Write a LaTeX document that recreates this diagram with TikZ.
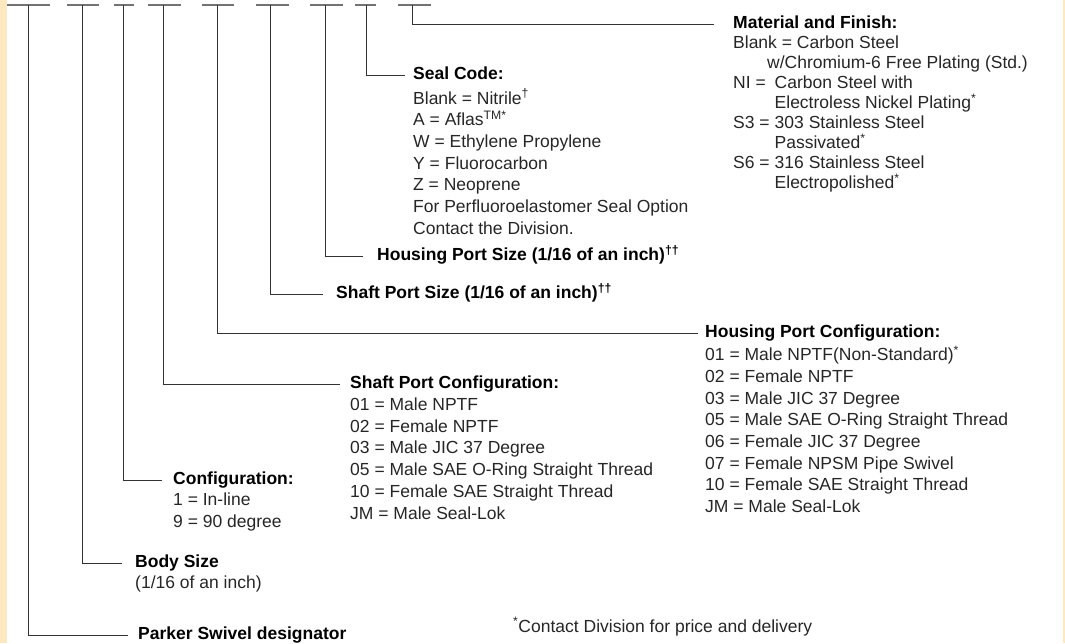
\documentclass[tikz,border=0pt]{standalone}
\usepackage{fontspec}
\setmainfont{Liberation Sans}
\usetikzlibrary{positioning}
\definecolor{bandYellow}{RGB}{255,231,192}

\begin{document}
\begin{tikzpicture}[
  x=1pt, y=-1pt,
  tick/.style={draw=black!55, line width=1.6pt},
  lead/.style={draw=black!80, line width=1pt},
  head/.style={font=\bfseries\fontsize{17.5}{21.7}\selectfont, inner sep=0pt,
               text height=13pt, text depth=4pt, anchor=west},
  list/.style={font=\fontsize{17.5}{21.7}\selectfont, text=black!85,
               align=left, inner sep=0pt, anchor=north west}
]
\useasboundingbox (0,0) rectangle (1065,643);
\fill[bandYellow] (0,0) rectangle (7,643);
\fill[bandYellow] (1063,0) rectangle (1065,643);

% Marcas del numero de pieza
\foreach \a/\b/\c/\n in {7/50/28/1, 67/99/82/2, 114/134/123/3, 148/181/163/4,
                         202/234/217/5, 256/289/270/6, 310/343/325/7,
                         355/376/366/8, 398/431/412/9}{
  \draw[tick] (\a,5) -- (\b,5);
  \coordinate (t\n) at (\c,5);
}

% Titulos
\node[head] (hmat)    at (733,24)  {Material and Finish:};
\node[head] (hseal)   at (413,75)  {Seal Code:};
\node[head] (hhps)    at (377,256) {Housing Port Size (1/16 of an inch)\textsuperscript{††}};
\node[head] (hsps)    at (336,294) {Shaft Port Size (1/16 of an inch)\textsuperscript{††}};
\node[head] (hhpc)    at (705,333) {Housing Port Configuration:};
\node[head] (hspc)    at (350,384) {Shaft Port Configuration:};
\node[head] (hconf)   at (173,480) {Configuration:};
\node[head] (hbody)   at (135,563) {Body Size};
\node[head] (hparker) at (138,635) {Parker Swivel designator};

% Listas
\node[list, font=\fontsize{17.5}{20}\selectfont] (lmat) at ([yshift=-3pt]hmat.south west)
  {Blank = Carbon Steel\\
   \hspace*{34pt}w/Chromium-6 Free Plating (Std.)\\
   \makebox[41.5pt][l]{NI =}Carbon Steel with\\
   \hspace*{41.5pt}Electroless Nickel Plating\textsuperscript{*}\\
   \makebox[41.5pt][l]{S3 =}303 Stainless Steel\\
   \hspace*{41.5pt}Passivated\textsuperscript{*}\\
   \makebox[41.5pt][l]{S6 =}316 Stainless Steel\\
   \hspace*{41.5pt}Electropolished\textsuperscript{*}};
\node[list] (lseal) at ([yshift=-5pt]hseal.south west)
  {Blank = Nitrile\textsuperscript{†}\\
   A = Aflas\textsuperscript{TM*}\\
   W = Ethylene Propylene\\
   Y = Fluorocarbon\\
   Z = Neoprene\\
   For Perfluoroelastomer Seal Option\\
   Contact the Division.};
\node[list] (lhpc) at ([yshift=-4pt]hhpc.south west)
  {01 = Male NPTF(Non-Standard)\textsuperscript{*}\\
   02 = Female NPTF\\
   03 = Male JIC 37 Degree\\
   05 = Male SAE O-Ring Straight Thread\\
   06 = Female JIC 37 Degree\\
   07 = Female NPSM Pipe Swivel\\
   10 = Female SAE Straight Thread\\
   JM = Male Seal-Lok};
\node[list] (lspc) at ([yshift=-5pt]hspc.south west)
  {01 = Male NPTF\\
   02 = Female NPTF\\
   03 = Male JIC 37 Degree\\
   05 = Male SAE O-Ring Straight Thread\\
   10 = Female SAE Straight Thread\\
   JM = Male Seal-Lok};
\node[list] (lconf) at ([yshift=-4pt]hconf.south west)
  {1 = In-line\\
   9 = 90 degree};
\node[list] (lbody) at ([yshift=-4pt]hbody.south west)
  {(1/16 of an inch)};

% Nota
\node[list, anchor=base west] (note) at (513,632)
  {\textsuperscript{*}Contact Division for price and delivery};

% Lineas guia
\draw[lead, shorten >=19pt] (t9) |- (hmat.west);
\draw[lead, shorten >=8pt]  (t8) |- (hseal.west);
\draw[lead, shorten >=14pt] (t7) |- (hhps.west);
\draw[lead, shorten >=13pt] (t6) |- (hsps.west);
\draw[lead, shorten >=7pt]  (t5) |- (hhpc.west);
\draw[lead, shorten >=10pt] (t4) |- (hspc.west);
\draw[lead, shorten >=11pt] (t3) |- (hconf.west);
\draw[lead, shorten >=13pt] (t2) |- (hbody.west);
\draw[lead, shorten >=10pt] (t1) |- (hparker.west);

\end{tikzpicture}
\end{document}
